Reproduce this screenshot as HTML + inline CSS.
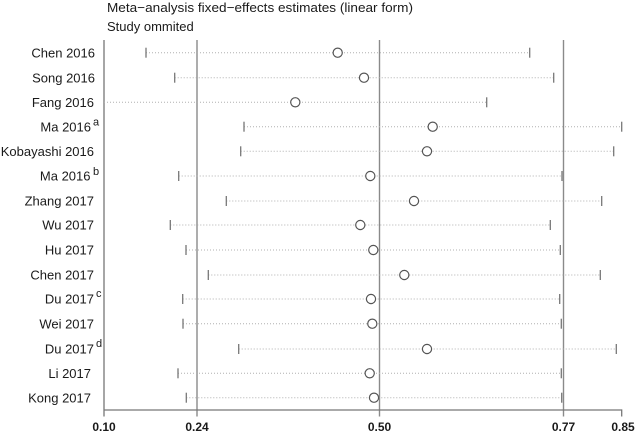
<!DOCTYPE html>
<html><head><meta charset="utf-8"><style>
html,body{margin:0;padding:0;background:#fff;}
svg{display:block;}
text{font-family:"Liberation Sans",sans-serif;fill:#1a1a1a;}
</style></head><body>
<svg width="637" height="433" viewBox="0 0 637 433" xmlns="http://www.w3.org/2000/svg">
<text x="107" y="12" font-size="13" textLength="306" lengthAdjust="spacingAndGlyphs">Meta−analysis fixed−effects estimates (linear form)</text>
<text x="107" y="31" font-size="13">Study ommited</text>

<g stroke="#8a8a8a" stroke-width="1.4">
<line x1="197" y1="40" x2="197" y2="416.5"/>
<line x1="379.5" y1="40" x2="379.5" y2="416.5"/>
<line x1="563.5" y1="40" x2="563.5" y2="416.5"/>
</g>
<g stroke="#777" stroke-width="1.3">
<line x1="104" y1="40" x2="104" y2="416.5"/>
<line x1="104" y1="410" x2="621.7" y2="410"/>
<line x1="621.7" y1="409.4" x2="621.7" y2="416.5"/>
</g>

<g stroke="#b0b0b0" stroke-width="1" stroke-dasharray="1 2">
<line x1="146" y1="52.7" x2="529.7" y2="52.7"/>
<line x1="174.7" y1="77.7" x2="553.7" y2="77.7"/>
<line x1="104" y1="102.3" x2="486.7" y2="102.3"/>
<line x1="244" y1="126.7" x2="621.7" y2="126.7"/>
<line x1="240.7" y1="151.3" x2="613.7" y2="151.3"/>
<line x1="178.7" y1="176" x2="562" y2="176"/>
<line x1="226.3" y1="201" x2="601.7" y2="201"/>
<line x1="170.3" y1="225" x2="550.3" y2="225"/>
<line x1="186" y1="250" x2="560.3" y2="250"/>
<line x1="208.3" y1="275" x2="600.3" y2="275"/>
<line x1="182.7" y1="299" x2="559.7" y2="299"/>
<line x1="183" y1="323.7" x2="561.3" y2="323.7"/>
<line x1="238.7" y1="349" x2="616.3" y2="349"/>
<line x1="178" y1="373.3" x2="561.3" y2="373.3"/>
<line x1="186.3" y1="397.7" x2="561.7" y2="397.7"/>
</g>

<g stroke="#777" stroke-width="1.3">
<line x1="146" y1="47.7" x2="146" y2="57.7"/><line x1="529.7" y1="47.7" x2="529.7" y2="57.7"/>
<line x1="174.7" y1="72.7" x2="174.7" y2="82.7"/><line x1="553.7" y1="72.7" x2="553.7" y2="82.7"/>
<line x1="486.7" y1="97.3" x2="486.7" y2="107.3"/>
<line x1="244" y1="121.7" x2="244" y2="131.7"/><line x1="621.7" y1="121.7" x2="621.7" y2="131.7"/>
<line x1="240.7" y1="146.3" x2="240.7" y2="156.3"/><line x1="613.7" y1="146.3" x2="613.7" y2="156.3"/>
<line x1="178.7" y1="171" x2="178.7" y2="181"/><line x1="562" y1="171" x2="562" y2="181"/>
<line x1="226.3" y1="196" x2="226.3" y2="206"/><line x1="601.7" y1="196" x2="601.7" y2="206"/>
<line x1="170.3" y1="220" x2="170.3" y2="230"/><line x1="550.3" y1="220" x2="550.3" y2="230"/>
<line x1="186" y1="245" x2="186" y2="255"/><line x1="560.3" y1="245" x2="560.3" y2="255"/>
<line x1="208.3" y1="270" x2="208.3" y2="280"/><line x1="600.3" y1="270" x2="600.3" y2="280"/>
<line x1="182.7" y1="294" x2="182.7" y2="304"/><line x1="559.7" y1="294" x2="559.7" y2="304"/>
<line x1="183" y1="318.7" x2="183" y2="328.7"/><line x1="561.3" y1="318.7" x2="561.3" y2="328.7"/>
<line x1="238.7" y1="344" x2="238.7" y2="354"/><line x1="616.3" y1="344" x2="616.3" y2="354"/>
<line x1="178" y1="368.3" x2="178" y2="378.3"/><line x1="561.3" y1="368.3" x2="561.3" y2="378.3"/>
<line x1="186.3" y1="392.7" x2="186.3" y2="402.7"/><line x1="561.7" y1="392.7" x2="561.7" y2="402.7"/>
</g>

<g fill="#fff" stroke="#555" stroke-width="1.2">
<circle cx="337.7" cy="52.7" r="4.6"/>
<circle cx="364" cy="77.7" r="4.6"/>
<circle cx="295.3" cy="102.3" r="4.6"/>
<circle cx="432.7" cy="126.7" r="4.6"/>
<circle cx="427" cy="151.3" r="4.6"/>
<circle cx="370.3" cy="176" r="4.6"/>
<circle cx="414" cy="201" r="4.6"/>
<circle cx="360.3" cy="225" r="4.6"/>
<circle cx="373.3" cy="250" r="4.6"/>
<circle cx="404.3" cy="275" r="4.6"/>
<circle cx="371" cy="299" r="4.6"/>
<circle cx="372.3" cy="323.7" r="4.6"/>
<circle cx="427" cy="349" r="4.6"/>
<circle cx="369.7" cy="373.3" r="4.6"/>
<circle cx="374" cy="397.7" r="4.6"/>
</g>

<g font-size="13" text-anchor="end">
<text x="95" y="57.3">Chen 2016</text>
<text x="95" y="82.3">Song 2016</text>
<text x="94" y="107">Fang 2016</text>
<text x="91" y="131.3">Ma 2016</text>
<text x="94" y="156">Kobayashi 2016</text>
<text x="90.5" y="180.6">Ma 2016</text>
<text x="94" y="205.6">Zhang 2017</text>
<text x="94" y="229.6">Wu 2017</text>
<text x="94" y="254.6">Hu 2017</text>
<text x="94" y="279.6">Chen 2017</text>
<text x="94" y="303.6">Du 2017</text>
<text x="94" y="328.3">Wei 2017</text>
<text x="94" y="353.6">Du 2017</text>
<text x="91" y="378">Li 2017</text>
<text x="91" y="402.3">Kong 2017</text>
</g>
<g font-size="11">
<text x="93" y="125.5">a</text>
<text x="93" y="175">b</text>
<text x="96" y="297">c</text>
<text x="96" y="347">d</text>
</g>

<g font-size="12" font-weight="bold" text-anchor="middle">
<text x="104" y="431">0.10</text>
<text x="197" y="431">0.24</text>
<text x="379.5" y="431">0.50</text>
<text x="563.5" y="431">0.77</text>
<text x="623" y="431">0.85</text>
</g>
</svg>
</body></html>
